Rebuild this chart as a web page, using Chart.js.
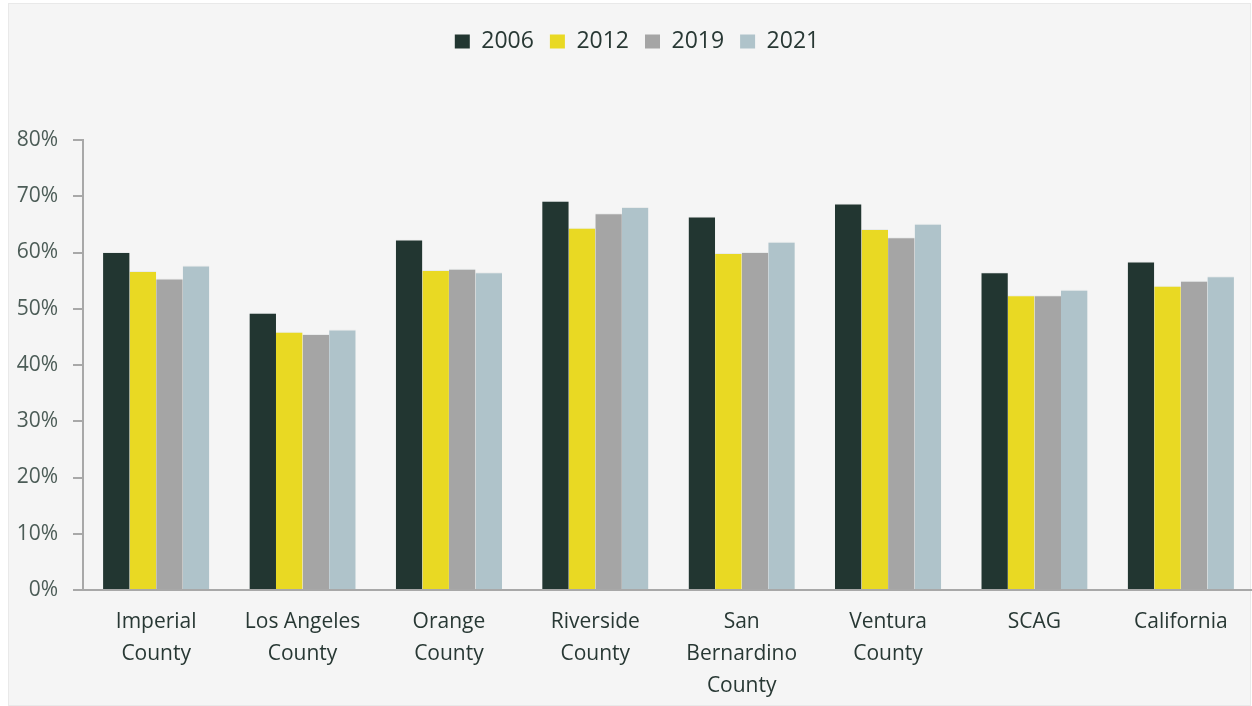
<!DOCTYPE html>
<html>
<head>
<meta charset="utf-8">
<script src="https://cdn.jsdelivr.net/npm/chart.js@4"></script>
<style>
  html, body { margin: 0; padding: 0; background: #ffffff; overflow: hidden; width: 1252px; height: 706px; }
  #panel { position: absolute; left: 8px; top: 3px; width: 1241px; height: 701px; background: #f5f5f5; border: 1px solid #e9e9e9; }
  #wrap { position: absolute; left: 0; top: 0; width: 1256px; height: 706px; }
</style>
</head>
<body>
<div id="panel"></div>
<div id="wrap"><canvas id="chart" width="1256" height="706"></canvas></div>
<script>
// Categories along the x axis (multi-line labels)
const regions = [
  ['Imperial', 'County'],
  ['Los Angeles', 'County'],
  ['Orange', 'County'],
  ['Riverside', 'County'],
  ['San', 'Bernardino', 'County'],
  ['Ventura', 'County'],
  ['SCAG'],
  ['California']
];

// Series values, in percent
const years = ['2006', '2012', '2019', '2021'];
const values2006 = [60.1, 49.3, 62.3, 69.2, 66.4, 68.7, 56.5, 58.4];
const values2012 = [56.7, 45.9, 56.9, 64.4, 59.9, 64.2, 52.4, 54.1];
const values2019 = [55.4, 45.5, 57.1, 67.0, 60.1, 62.7, 52.4, 55.0];
const values2021 = [57.7, 46.3, 56.5, 68.1, 61.9, 65.1, 53.4, 55.8];

// Y axis ticks
const yTicks = [0, 10, 20, 30, 40, 50, 60, 70, 80];

const seriesColors = ['#223631', '#e9d923', '#a5a5a5', '#afc3ca'];
const seriesValues = [values2006, values2012, values2019, values2021];

const datasets = years.map((y, i) => ({
  label: y,
  data: seriesValues[i],
  backgroundColor: seriesColors[i],
  borderColor: 'rgba(225,229,228,0.6)',
  borderWidth: { top: 1, left: 0, right: 0, bottom: 0 },
  borderSkipped: 'bottom',
  categoryPercentage: 0.726,
  barPercentage: 1.0
}));

const textDark = '#283834';
const axisGray = '#a8a8a8';

// Legend block reserves room down to the top of the plot and sits a little right of centre
const legendSpacer = {
  id: 'legendSpacer',
  beforeInit(chart) {
    const origFit = chart.legend.fit;
    chart.legend.fit = function () {
      origFit.bind(chart.legend)();
      this.height = 126;
    };
  },
  afterLayout(chart) {
    chart.legend.left += 10;
    chart.legend.right += 10;
  }
};

new Chart(document.getElementById('chart'), {
  type: 'bar',
  data: { labels: regions, datasets },
  plugins: [legendSpacer],
  options: {
    responsive: false,
    animation: false,
    layout: { padding: { top: 14, right: 2, left: 0, bottom: 0 } },
    plugins: {
      tooltip: { enabled: false },
      legend: {
        position: 'top',
        align: 'center',
        labels: {
          boxWidth: 15,
          boxHeight: 14,
          padding: 16,
          color: textDark,
          font: { family: 'Open Sans', size: 23 },
          generateLabels(chart) {
            const items = Chart.defaults.plugins.legend.labels.generateLabels(chart);
            items.forEach(it => { it.lineWidth = 0; });
            return items;
          }
        }
      }
    },
    scales: {
      x: {
        grid: { display: false, drawTicks: false },
        border: { display: true, color: axisGray, width: 2 },
        ticks: {
          padding: 16,
          color: textDark,
          maxRotation: 0,
          autoSkip: false,
          font: { family: 'Open Sans', size: 21, lineHeight: 1.52 }
        },
        afterFit(scale) { scale.height = 116; }
      },
      y: {
        min: 0,
        max: 80,
        afterBuildTicks(scale) { scale.ticks = yTicks.map(v => ({ value: v })); },
        grid: {
          display: true,
          drawOnChartArea: false,
          drawTicks: true,
          tickLength: 10,
          color: axisGray,
          lineWidth: 2
        },
        border: { display: true, color: axisGray, width: 2 },
        ticks: {
          padding: 15,
          color: '#4c5c57',
          font: { family: 'Open Sans', size: 21 },
          callback: v => v + '%'
        },
        afterFit(scale) { scale.width = 83; }
      }
    }
  }
});
</script>
</body>
</html>
